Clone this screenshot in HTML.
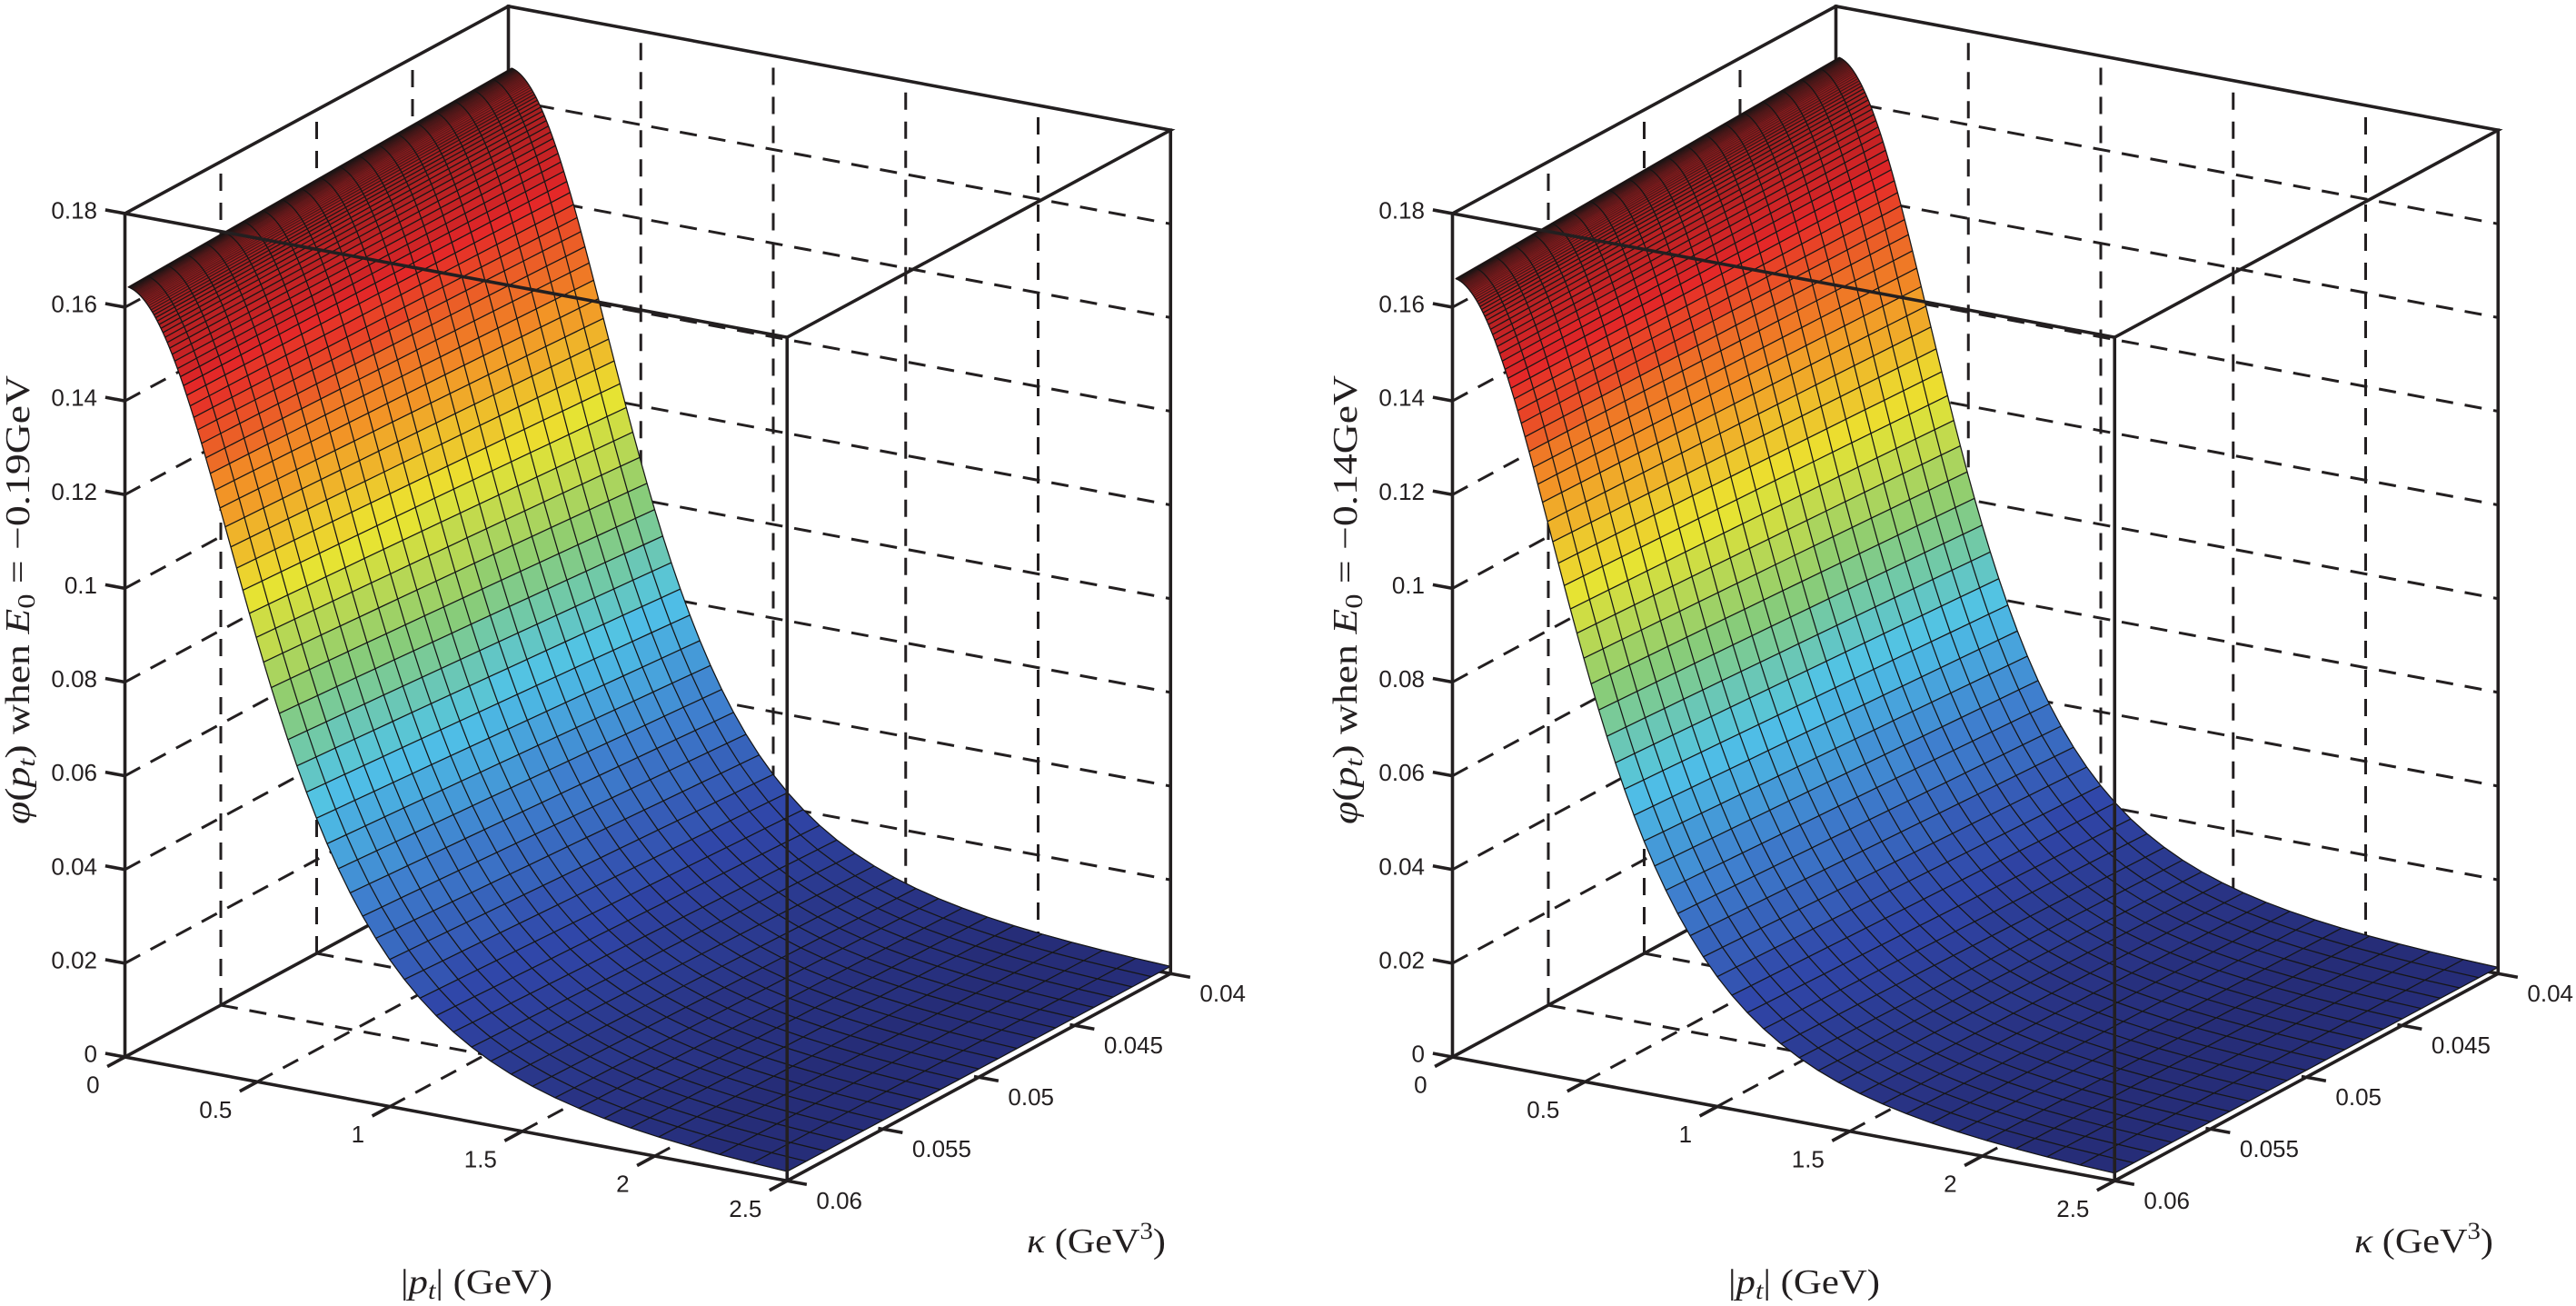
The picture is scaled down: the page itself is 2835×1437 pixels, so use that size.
<!DOCTYPE html>
<html><head><meta charset="utf-8">
<style>
html,body{margin:0;padding:0;background:#fff;}
svg{display:block}
.dash{stroke:#231f20;stroke-width:3;stroke-dasharray:19 13;fill:none}
.box{stroke:#231f20;stroke-width:3.6;fill:none;stroke-linecap:square;stroke-linejoin:miter}
.tick{stroke:#231f20;stroke-width:3.6;fill:none}
.mesh{stroke:#161616;stroke-width:1.25;fill:none;stroke-linejoin:round}
.tl{font-family:"Liberation Sans",Arial,sans-serif;font-size:26px;fill:#231f20}
.al{font-family:"Liberation Serif","Times New Roman",serif;font-size:38px;fill:#231f20}
</style></head><body>
<svg id="s" width="2835" height="1437" viewBox="0 0 2835 1437" xmlns="http://www.w3.org/2000/svg">
<rect width="2835" height="1437" fill="#fff"/>
<g id="pL"></g>
<g id="pR" transform="translate(1461,0)"></g>

<g id="txtL">
<text class="tl" text-anchor="end" x="107" y="1168.5">0</text>
<text class="tl" text-anchor="end" x="107" y="1065.4">0.02</text>
<text class="tl" text-anchor="end" x="107" y="962.3">0.04</text>
<text class="tl" text-anchor="end" x="107" y="859.1">0.06</text>
<text class="tl" text-anchor="end" x="107" y="756">0.08</text>
<text class="tl" text-anchor="end" x="107" y="652.9">0.1</text>
<text class="tl" text-anchor="end" x="107" y="549.8">0.12</text>
<text class="tl" text-anchor="end" x="107" y="446.7">0.14</text>
<text class="tl" text-anchor="end" x="107" y="343.5">0.16</text>
<text class="tl" text-anchor="end" x="107" y="240.5">0.18</text>
<text class="tl" text-anchor="end" x="109.6" y="1202.5">0</text>
<text class="tl" text-anchor="end" x="255.4" y="1229.8">0.5</text>
<text class="tl" text-anchor="end" x="401.1" y="1257">1</text>
<text class="tl" text-anchor="end" x="546.9" y="1284.3">1.5</text>
<text class="tl" text-anchor="end" x="692.6" y="1311.5">2</text>
<text class="tl" text-anchor="end" x="838.4" y="1338.8">2.5</text>
<text class="tl" x="898.4" y="1329.8">0.06</text>
<text class="tl" x="1003.9" y="1272.8">0.055</text>
<text class="tl" x="1109.4" y="1215.8">0.05</text>
<text class="tl" x="1214.9" y="1158.8">0.045</text>
<text class="tl" x="1320.4" y="1101.8">0.04</text>
<text class="al" x="441" y="1423" textLength="167" lengthAdjust="spacingAndGlyphs">|<tspan font-style="italic">p</tspan><tspan font-style="italic" font-size="27" dy="6">t</tspan><tspan dy="-6">| (GeV)</tspan></text>
<text class="al" x="1130" y="1378" textLength="153" lengthAdjust="spacingAndGlyphs"><tspan font-style="italic">κ</tspan> (GeV<tspan font-size="26" dy="-15">3</tspan><tspan dy="15">)</tspan></text>
<text class="al" transform="translate(32,907) rotate(-90)" textLength="494" lengthAdjust="spacingAndGlyphs"><tspan font-style="italic">φ</tspan>(<tspan font-style="italic">p</tspan><tspan font-style="italic" font-size="27" dy="6">t</tspan><tspan dy="-6">) when </tspan><tspan font-style="italic">E</tspan><tspan font-size="27" dy="6">0</tspan><tspan dy="-6"> = −0.19GeV</tspan></text>
</g>

<g id="txtR" transform="translate(1461,0)">
<text class="tl" text-anchor="end" x="107" y="1168.5">0</text>
<text class="tl" text-anchor="end" x="107" y="1065.4">0.02</text>
<text class="tl" text-anchor="end" x="107" y="962.3">0.04</text>
<text class="tl" text-anchor="end" x="107" y="859.1">0.06</text>
<text class="tl" text-anchor="end" x="107" y="756">0.08</text>
<text class="tl" text-anchor="end" x="107" y="652.9">0.1</text>
<text class="tl" text-anchor="end" x="107" y="549.8">0.12</text>
<text class="tl" text-anchor="end" x="107" y="446.7">0.14</text>
<text class="tl" text-anchor="end" x="107" y="343.5">0.16</text>
<text class="tl" text-anchor="end" x="107" y="240.5">0.18</text>
<text class="tl" text-anchor="end" x="109.6" y="1202.5">0</text>
<text class="tl" text-anchor="end" x="255.4" y="1229.8">0.5</text>
<text class="tl" text-anchor="end" x="401.1" y="1257">1</text>
<text class="tl" text-anchor="end" x="546.9" y="1284.3">1.5</text>
<text class="tl" text-anchor="end" x="692.6" y="1311.5">2</text>
<text class="tl" text-anchor="end" x="838.4" y="1338.8">2.5</text>
<text class="tl" x="898.4" y="1329.8">0.06</text>
<text class="tl" x="1003.9" y="1272.8">0.055</text>
<text class="tl" x="1109.4" y="1215.8">0.05</text>
<text class="tl" x="1214.9" y="1158.8">0.045</text>
<text class="tl" x="1320.4" y="1101.8">0.04</text>
<text class="al" x="441" y="1423" textLength="167" lengthAdjust="spacingAndGlyphs">|<tspan font-style="italic">p</tspan><tspan font-style="italic" font-size="27" dy="6">t</tspan><tspan dy="-6">| (GeV)</tspan></text>
<text class="al" x="1130" y="1378" textLength="153" lengthAdjust="spacingAndGlyphs"><tspan font-style="italic">κ</tspan> (GeV<tspan font-size="26" dy="-15">3</tspan><tspan dy="15">)</tspan></text>
<text class="al" transform="translate(32,907) rotate(-90)" textLength="494" lengthAdjust="spacingAndGlyphs"><tspan font-style="italic">φ</tspan>(<tspan font-style="italic">p</tspan><tspan font-style="italic" font-size="27" dy="6">t</tspan><tspan dy="-6">) when </tspan><tspan font-style="italic">E</tspan><tspan font-size="27" dy="6">0</tspan><tspan dy="-6"> = −0.14GeV</tspan></text>
</g>
</svg>
<script>
(function(){
var NS='http://www.w3.org/2000/svg';
var anchors=[[0,38,45,120],[0.125,48,70,168],[0.25,62,125,205],[0.375,80,195,232],[0.5,140,205,115],[0.625,235,228,48],[0.75,242,145,38],[0.875,228,38,40],[1,145,28,30]];
function cmap(t){
  t=Math.max(0,Math.min(1,t));
  for(var i=1;i<anchors.length;i++){
    if(t<=anchors[i][0]){
      var a=anchors[i-1],b=anchors[i],f=(t-a[0])/(b[0]-a[0]);
      return 'rgb('+Math.round(a[1]+f*(b[1]-a[1]))+','+Math.round(a[2]+f*(b[2]-a[2]))+','+Math.round(a[3]+f*(b[3]-a[3]))+')';
    }
  }
  return 'rgb(145,28,30)';
}
function P(pt,v,z){return [137.5+291.5*pt+422*v, 1163+54.5*pt-228*v-5156*z];}
function el(parent,tag,attrs){var e=document.createElementNS(NS,tag);for(var k in attrs)e.setAttribute(k,attrs[k]);parent.appendChild(e);return e;}
function fmt(pts){return pts.map(function(q){return q[0].toFixed(2)+','+q[1].toFixed(2);}).join(' ');}
function pl(parent,pts,cls){return el(parent,'polyline',{points:fmt(pts),'class':cls});}
function build(gid,A06,A04,a06,a04){
  var g=document.getElementById(gid);
  var back=el(g,'g',{}),faces=el(g,'g',{}),mesh=el(g,'g',{}),front=el(g,'g',{});
  var zt=[0.02,0.04,0.06,0.08,0.1,0.12,0.14,0.16];
  [0.5,1,1.5,2].forEach(function(p){pl(back,[P(p,1,0),P(p,1,0.18)],'dash');pl(back,[P(p,0,0),P(p,1,0)],'dash');});
  zt.forEach(function(z){pl(back,[P(0,1,z),P(2.5,1,z)],'dash');pl(back,[P(0,0,z),P(0,1,z)],'dash');});
  [0.25,0.5,0.75].forEach(function(v){pl(back,[P(0,v,0),P(0,v,0.18)],'dash');pl(back,[P(0,v,0),P(2.5,v,0)],'dash');});
  pl(back,[P(0,0,0),P(0,1,0),P(2.5,1,0)],'box');
  pl(back,[P(0,1,0),P(0,1,0.18)],'box');
  var N=100,M=21,p0=0.012,p1=2.5,i,j;
  var pts=[];for(i=0;i<N;i++)pts.push(p0*Math.pow(p1/p0,i/(N-1)));
  var vs=[];for(j=0;j<M;j++)vs.push(j/(M-1));
  var Z=[],zmin=1e9,zmax=-1e9;
  for(i=0;i<N;i++){Z.push([]);for(j=0;j<M;j++){var v=vs[j];var A=A06+(A04-A06)*v,a=a06+(a04-a06)*v;var q=pts[i]/a;var z=A/Math.pow(1+q*q,2);Z[i].push(z);if(z<zmin)zmin=z;if(z>zmax)zmax=z;}}
  var S=[];for(i=0;i<N;i++){S.push([]);for(j=0;j<M;j++)S[i].push(P(pts[i],vs[j],Z[i][j]));}
  var list=[];
  for(i=0;i<N-1;i++)for(j=0;j<M-1;j++){
    var zz=Z[i][j];var k=Math.floor((zz-zmin)/(zmax-zmin)*64);if(k>63)k=63;if(k<0)k=0;
    var col=cmap(k/63);
    var d=pts[i]/2.5-1.727*vs[j]+0.571*zz/0.18;
    list.push([d,[S[i][j],S[i+1][j],S[i+1][j+1],S[i][j+1]],col]);
  }
  list.sort(function(a,b){return a[0]-b[0];});
  list.forEach(function(f){el(faces,'polygon',{points:fmt(f[1]),fill:f[2],stroke:f[2],'stroke-width':'0.7'});});
  for(j=0;j<M;j++){var arr=[];for(i=0;i<N;i++)arr.push(S[i][j]);pl(mesh,arr,'mesh');}
  for(i=0;i<N;i++){
    var sp;
    if(i<N-1) sp=Math.abs(S[i+1][0][1]-S[i][0][1]); else sp=10;
    if(i>0) sp=Math.min(sp,Math.abs(S[i][0][1]-S[i-1][0][1]));
    var op=Math.max(0.45,Math.min(1,sp/3));
    var e=pl(mesh,S[i],'mesh');
    if(op<1) e.setAttribute('stroke-opacity',op.toFixed(2));
  }
  pl(front,[P(0,0,0),P(2.5,0,0),P(2.5,1,0)],'box');
  pl(front,[P(2.5,0,0),P(2.5,0,0.18)],'box');
  pl(front,[P(2.5,1,0),P(2.5,1,0.18)],'box');
  pl(front,[P(0,0,0),P(0,0,0.18)],'box');
  pl(front,[P(0,0,0.18),P(2.5,0,0.18),P(2.5,1,0.18),P(0,1,0.18),P(0,0,0.18)],'box');
  [0,0.02,0.04,0.06,0.08,0.1,0.12,0.14,0.16,0.18].forEach(function(z){var b=P(0,0,z);pl(front,[b,[b[0]-21.6,b[1]-4]],'tick');});
  [0,0.5,1,1.5,2,2.5].forEach(function(p){var b=P(p,0,0);pl(front,[b,[b[0]-19.4,b[1]+10.5]],'tick');});
  [0,0.25,0.5,0.75,1].forEach(function(v){var b=P(2.5,v,0);pl(front,[b,[b[0]+21.6,b[1]+4]],'tick');});
}
build('pL',0.1645,0.167,0.88,0.815);
build('pR',0.1663,0.1693,0.83,0.78);
})();
</script>
</body></html>
